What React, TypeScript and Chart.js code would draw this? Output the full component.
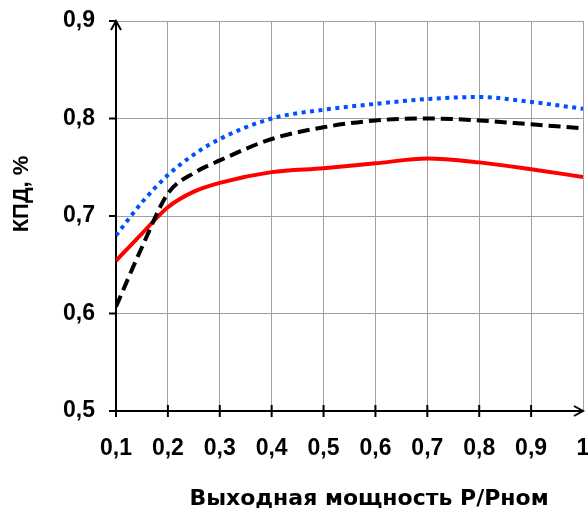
import React, { useEffect, useRef } from "react";
import { Chart, registerables } from "chart.js";

Chart.register(...registerables);

const loadX = [0.1, 0.15, 0.2, 0.25, 0.3, 0.4, 0.5, 0.6, 0.7, 0.8, 0.9, 1.0];
const blueDotted = [0.68, 0.714, 0.742, 0.763, 0.779, 0.8, 0.809, 0.815, 0.82, 0.822, 0.817, 0.81];
const blackDashed = [0.607, 0.668, 0.723, 0.744, 0.757, 0.779, 0.791, 0.798, 0.8, 0.798, 0.794, 0.79];
const redSolid = [0.654, 0.682, 0.709, 0.725, 0.734, 0.745, 0.749, 0.754, 0.759, 0.755, 0.748, 0.74];

const xTicks = [0.1, 0.2, 0.3, 0.4, 0.5, 0.6, 0.7, 0.8, 0.9, 1.0];
const xTickLabels = ["0,1", "0,2", "0,3", "0,4", "0,5", "0,6", "0,7", "0,8", "0,9", "1"];
const yTicks = [0.5, 0.6, 0.7, 0.8, 0.9];
const yTickLabels = ["0,5", "0,6", "0,7", "0,8", "0,9"];

const xTitle = "Выходная мощность Р/Рном";
const yTitle = "КПД, %";

const tickFont = { family: "'Liberation Sans', Arial, sans-serif", size: 23, weight: "bold" as const };

const axesPlugin = {
  id: "axesPlugin",
  beforeDatasetsDraw(chart: any) {
    const { ctx, chartArea } = chart;
    const { left, right, top, bottom } = chartArea;
    const xs = chart.scales.x;
    const ys = chart.scales.y;
    ctx.save();
    ctx.strokeStyle = "#000";
    ctx.lineWidth = 2;
    ctx.beginPath();
    ctx.moveTo(left, bottom);
    ctx.lineTo(left, top);
    ctx.moveTo(left, bottom);
    ctx.lineTo(right, bottom);
    // arrows
    ctx.moveTo(left - 5, top + 9);
    ctx.lineTo(left, top);
    ctx.lineTo(left + 5, top + 9);
    ctx.moveTo(right - 9, bottom - 5);
    ctx.lineTo(right, bottom);
    ctx.lineTo(right - 9, bottom + 5);
    // ticks
    xTicks.forEach((v) => {
      const px = xs.getPixelForValue(v);
      if (v < 1) {
        ctx.moveTo(px, bottom - 6);
        ctx.lineTo(px, bottom + 6);
      }
    });
    yTicks.forEach((v) => {
      const py = ys.getPixelForValue(v);
      ctx.moveTo(left - 7, py);
      ctx.lineTo(left, py);
    });
    ctx.stroke();
    ctx.restore();
  },
  afterDraw(chart: any) {
    const { ctx, chartArea } = chart;
    ctx.save();
    ctx.fillStyle = "#000";
    ctx.textAlign = "center";
    ctx.textBaseline = "middle";
    ctx.font = "bold 22px 'DejaVu Sans', Verdana, sans-serif";
    ctx.fillText(xTitle, chartArea.left + 253, chartArea.bottom + 88);
    ctx.translate(22, chartArea.top + 173);
    ctx.rotate(-Math.PI / 2);
    ctx.font = "bold 22px 'Liberation Sans', Arial, sans-serif";
    ctx.fillText(yTitle, 0, 0);
    ctx.restore();
  },
};

export default function App() {
  const canvasRef = useRef<HTMLCanvasElement | null>(null);

  useEffect(() => {
    if (!canvasRef.current) return;
    const mk = (ys: number[]) => loadX.map((x, i) => ({ x, y: ys[i] }));
    const chart = new Chart(canvasRef.current, {
      type: "line",
      data: {
        datasets: [
          {
            data: mk(blueDotted),
            borderColor: "#0050ff",
            borderWidth: 4,
            borderDash: [4, 4.5],
            pointRadius: 0,
            cubicInterpolationMode: "monotone",
          },
          {
            data: mk(blackDashed),
            borderColor: "#000000",
            borderWidth: 4,
            borderDash: [12, 6],
            pointRadius: 0,
            cubicInterpolationMode: "monotone",
          },
          {
            data: mk(redSolid),
            borderColor: "#ff0000",
            borderWidth: 4,
            pointRadius: 0,
            cubicInterpolationMode: "monotone",
          },
        ],
      },
      options: {
        animation: false,
        responsive: true,
        maintainAspectRatio: false,
        layout: { padding: { top: 21, right: 5, left: 0, bottom: 0 } },
        plugins: { legend: { display: false }, tooltip: { enabled: false } },
        scales: {
          x: {
            type: "linear",
            min: 0.1,
            max: 1.0,
            afterBuildTicks: (s: any) => {
              s.ticks = xTicks.map((v) => ({ value: v }));
            },
            afterFit: (s: any) => {
              s.height = 99;
              s.paddingLeft = 0;
              s.paddingRight = 0;
            },
            ticks: {
              color: "#000",
              font: tickFont,
              padding: 24,
              maxRotation: 0,
              autoSkip: false,
              callback: (_v: any, i: number) => xTickLabels[i],
            },
            grid: { color: "#a0a0a0", lineWidth: 1, drawTicks: false },
            border: { display: false },
          },
          y: {
            type: "linear",
            min: 0.5,
            max: 0.9,
            afterBuildTicks: (s: any) => {
              s.ticks = yTicks.map((v) => ({ value: v }));
            },
            afterFit: (s: any) => {
              s.width = 116;
              s.paddingTop = 0;
              s.paddingBottom = 0;
            },
            ticks: {
              color: "#000",
              font: tickFont,
              padding: 21,
              autoSkip: false,
              callback: (_v: any, i: number) => yTickLabels[i],
            },
            grid: { color: "#a0a0a0", lineWidth: 1, drawTicks: false },
            border: { display: false },
          },
        },
      },
      plugins: [axesPlugin],
    });
    return () => chart.destroy();
  }, []);

  return (
    <div style={{ position: "absolute", left: 0, top: 0, width: 588, height: 510, background: "#fff" }}>
      <canvas ref={canvasRef} />
    </div>
  );
}
